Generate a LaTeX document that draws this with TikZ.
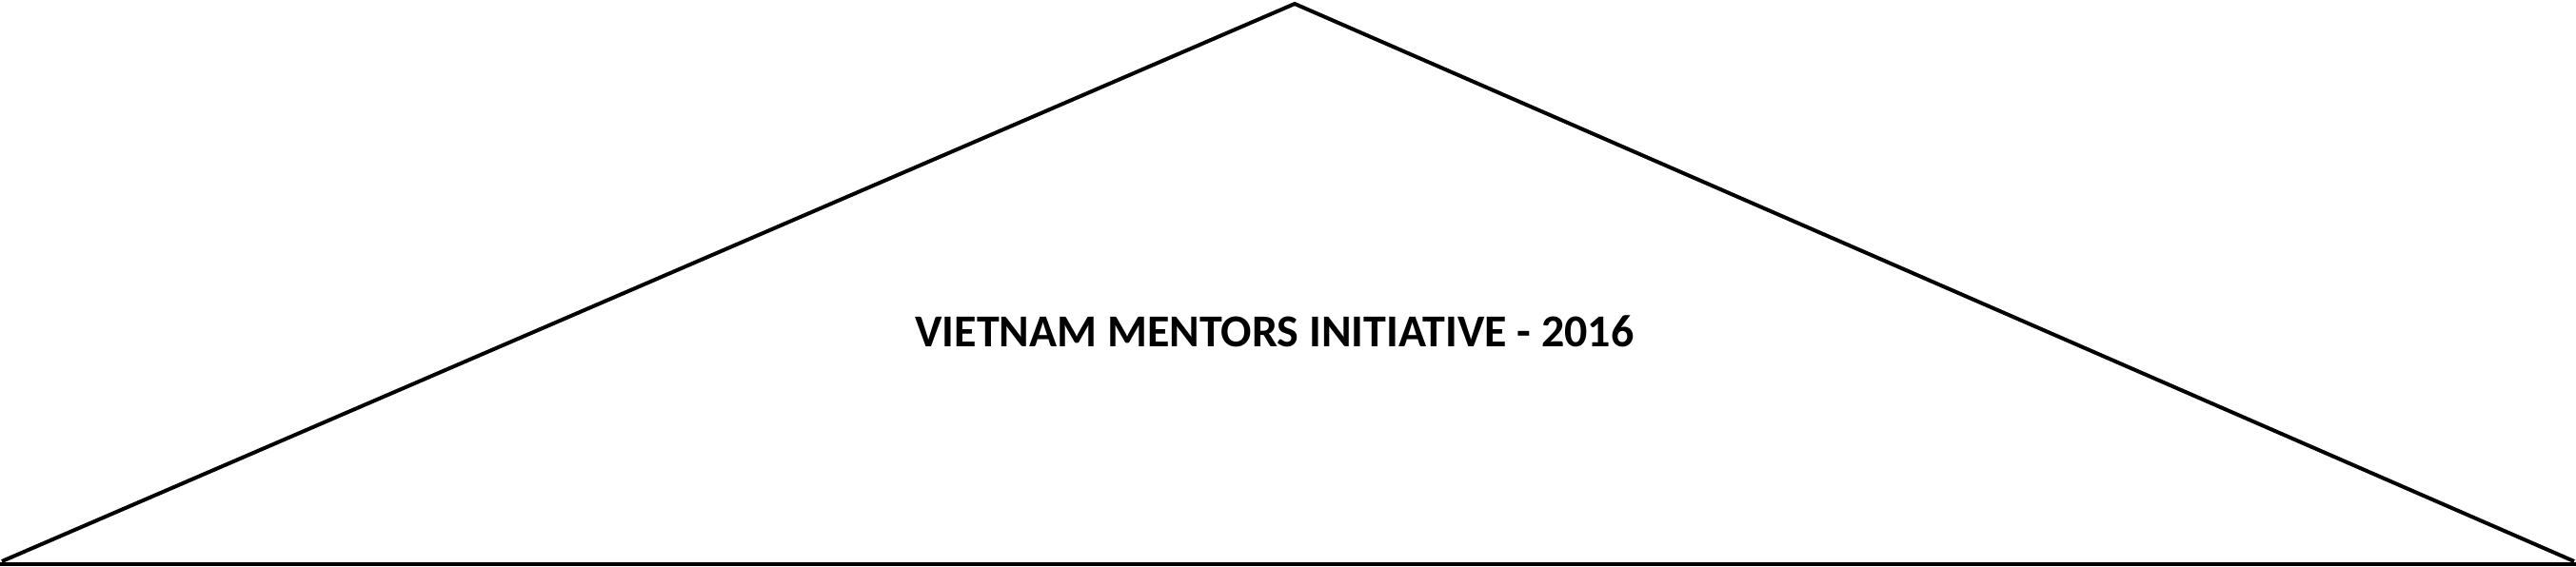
\documentclass[tikz,border=0pt]{standalone}
\usepackage{fontspec}
\setmainfont{Carlito}
\begin{document}
\begin{tikzpicture}[x = 1pt, y = -1pt]
	\def\width{2706}
	\def\height{596}
	\def\apex{1360}
	\def\base{590}

	\useasboundingbox (0, 0) rectangle (\width, \height);
	\draw[line width = 4pt, line join = miter] (2, \base) -- (\apex, 4) -- ({\width - 2}, \base);
	\draw[line width = 4.5pt] (0, {\base + 3}) -- (\width, {\base + 3});

	\node[font = \bfseries\fontsize{48}{58}\selectfont] (title) at (1339, 348) {VIETNAM MENTORS INITIATIVE - 2016};
\end{tikzpicture}
\end{document}
